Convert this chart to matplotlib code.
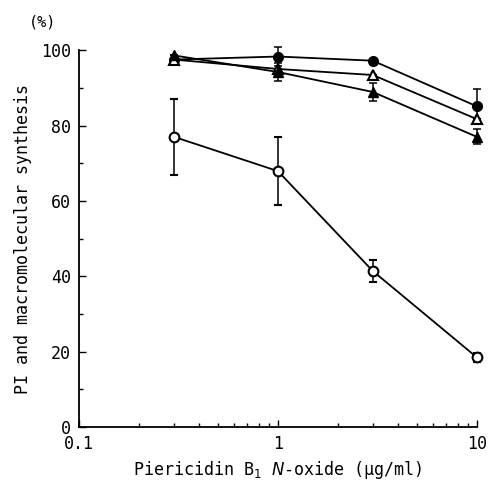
import matplotlib
matplotlib.use('Agg')
import matplotlib.pyplot as plt
from matplotlib.ticker import FixedLocator, NullFormatter

plt.rcParams['font.family'] = ['DejaVu Sans Mono']
plt.rcParams['mathtext.fontset'] = 'dejavusans'

conc = [0.3, 1, 3, 10]

# open circles
pi_open = [77.0, 67.9, 41.4, 18.5]
pi_open_err = [10.0, 9.0, 3.0, 1.2]
# filled circles
fc = [97.5, 98.3, 97.2, 85.1]
fc_err = [0, 2.6, 0, 4.7]
# open triangles
ot = [97.5, 95.0, 93.4, 81.7]
ot_err = [0, 0, 0, 0]
# filled triangles
ft = [98.6, 94.2, 88.9, 77.0]
ft_err = [0, 2.4, 2.3, 2.0]

fig = plt.figure(figsize=(4.88, 4.82), dpi=100)
ax = fig.add_axes([0.162, 0.114, 0.815, 0.782])

kw = dict(color='black', lw=1.3, capsize=3, elinewidth=1.1, capthick=1.1, ms=7, clip_on=False)
ax.errorbar(conc, fc, yerr=fc_err, fmt='-o', mfc='black', mec='black', zorder=3, **kw)
ax.errorbar(conc, ot, yerr=ot_err, fmt='-^', mfc='white', mec='black', mew=1.5, zorder=4, **kw)
ax.errorbar(conc, ft, yerr=ft_err, fmt='-^', mfc='black', mec='black', zorder=5, **kw)
ax.errorbar(conc, pi_open, yerr=pi_open_err, fmt='-o', mfc='white', mec='black', mew=1.5, zorder=3, **kw)

ax.set_xscale('log')
ax.set_xlim(0.1, 10)
ax.set_ylim(0, 100)
ax.set_xticks([0.1, 1, 10])
ax.set_xticklabels(['0.1', '1', '10'])
ax.xaxis.set_minor_formatter(NullFormatter())
ax.set_yticks([0, 20, 40, 60, 80, 100])
ax.yaxis.set_minor_locator(FixedLocator([10, 30, 50, 70, 90]))

for s in ['top', 'right']:
    ax.spines[s].set_visible(False)
ax.spines['left'].set_linewidth(1.3)
ax.spines['bottom'].set_linewidth(1.3)
ax.tick_params(which='both', direction='in', width=1)
ax.tick_params(which='major', length=5, labelsize=12, pad=6)
ax.tick_params(which='minor', length=3)

ax.set_xlabel('Piericidin B$_1$ $N$-oxide (\u03bcg/ml)', fontsize=12)
ax.set_ylabel('PI and macromolecular synthesis', fontsize=12, labelpad=6)
fig.text(0.06, 0.955, '(%)', fontsize=11, ha='left', va='center')

fig.savefig('out.png', dpi=100)
